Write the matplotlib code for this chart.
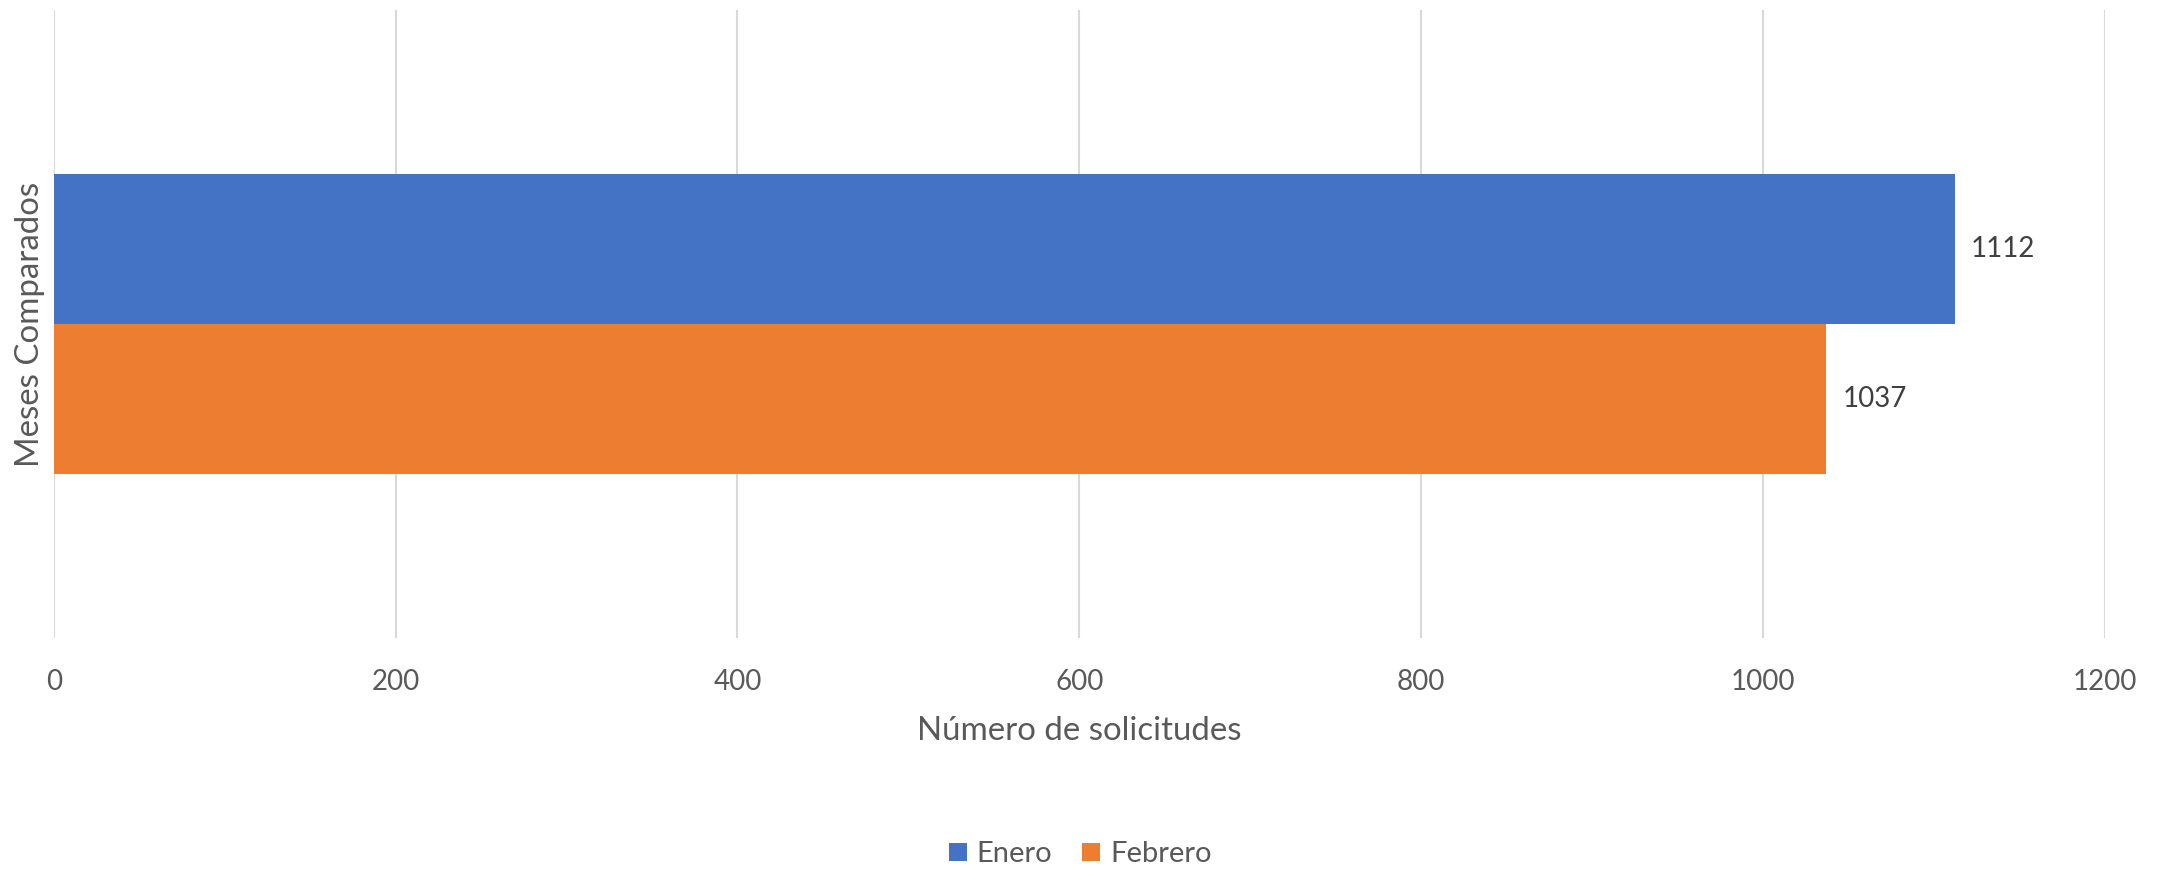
import matplotlib.pyplot as plt
from matplotlib.patches import Patch

# data
series = ["Enero", "Febrero"]
values = [1112, 1037]
colors = ["#4472C4", "#ED7D31"]
xticks = [0, 200, 400, 600, 800, 1000, 1200]

plt.rcParams['font.family'] = ['Lato', 'DejaVu Sans']

fig = plt.figure(figsize=(21.6, 8.69), dpi=100)
ax = fig.add_axes([0.0249, 0.2658, 0.9496, 0.7227])

bar_h = 0.239
# Enero on top, Febrero below, both in one category
offsets = [bar_h / 2, -bar_h / 2]
for name, val, col, off in zip(series, values, colors, offsets):
    ax.barh(off, val, height=bar_h, color=col, label=name, zorder=2)
    ax.annotate(str(val), xy=(val, off), xytext=(12, 0), textcoords="offset points",
                va="center", ha="left", fontsize=20, color="#404040")

ax.set_xlim(0, 1200)
ax.set_ylim(-0.5, 0.5)
ax.set_xticks(xticks)
ax.set_yticks([])
ax.tick_params(axis="x", length=0, pad=22, labelsize=20, labelcolor="#595959")
ax.grid(axis="x", color="#D9D9D9", linewidth=1.5, zorder=0)
for s in ax.spines.values():
    s.set_visible(False)

ax.set_xlabel("Número de solicitudes", fontsize=23.8, color="#595959", va="center")
ax.xaxis.set_label_coords(0.5, -0.148)
ax.set_ylabel("Meses Comparados", fontsize=23.8, color="#595959", va="center")
ax.yaxis.set_label_coords(-0.0117, 0.5)

handles = [Patch(facecolor=c, label=n) for n, c in zip(series, colors)]
fig.legend(handles=handles, loc="center", bbox_to_anchor=(0.5, 0.017), ncol=2,
           frameon=False, fontsize=21, handlelength=0.62, handleheight=0.62,
           handletextpad=0.35, columnspacing=1.0, labelcolor="#595959")

fig.savefig("out.png", dpi=100)
